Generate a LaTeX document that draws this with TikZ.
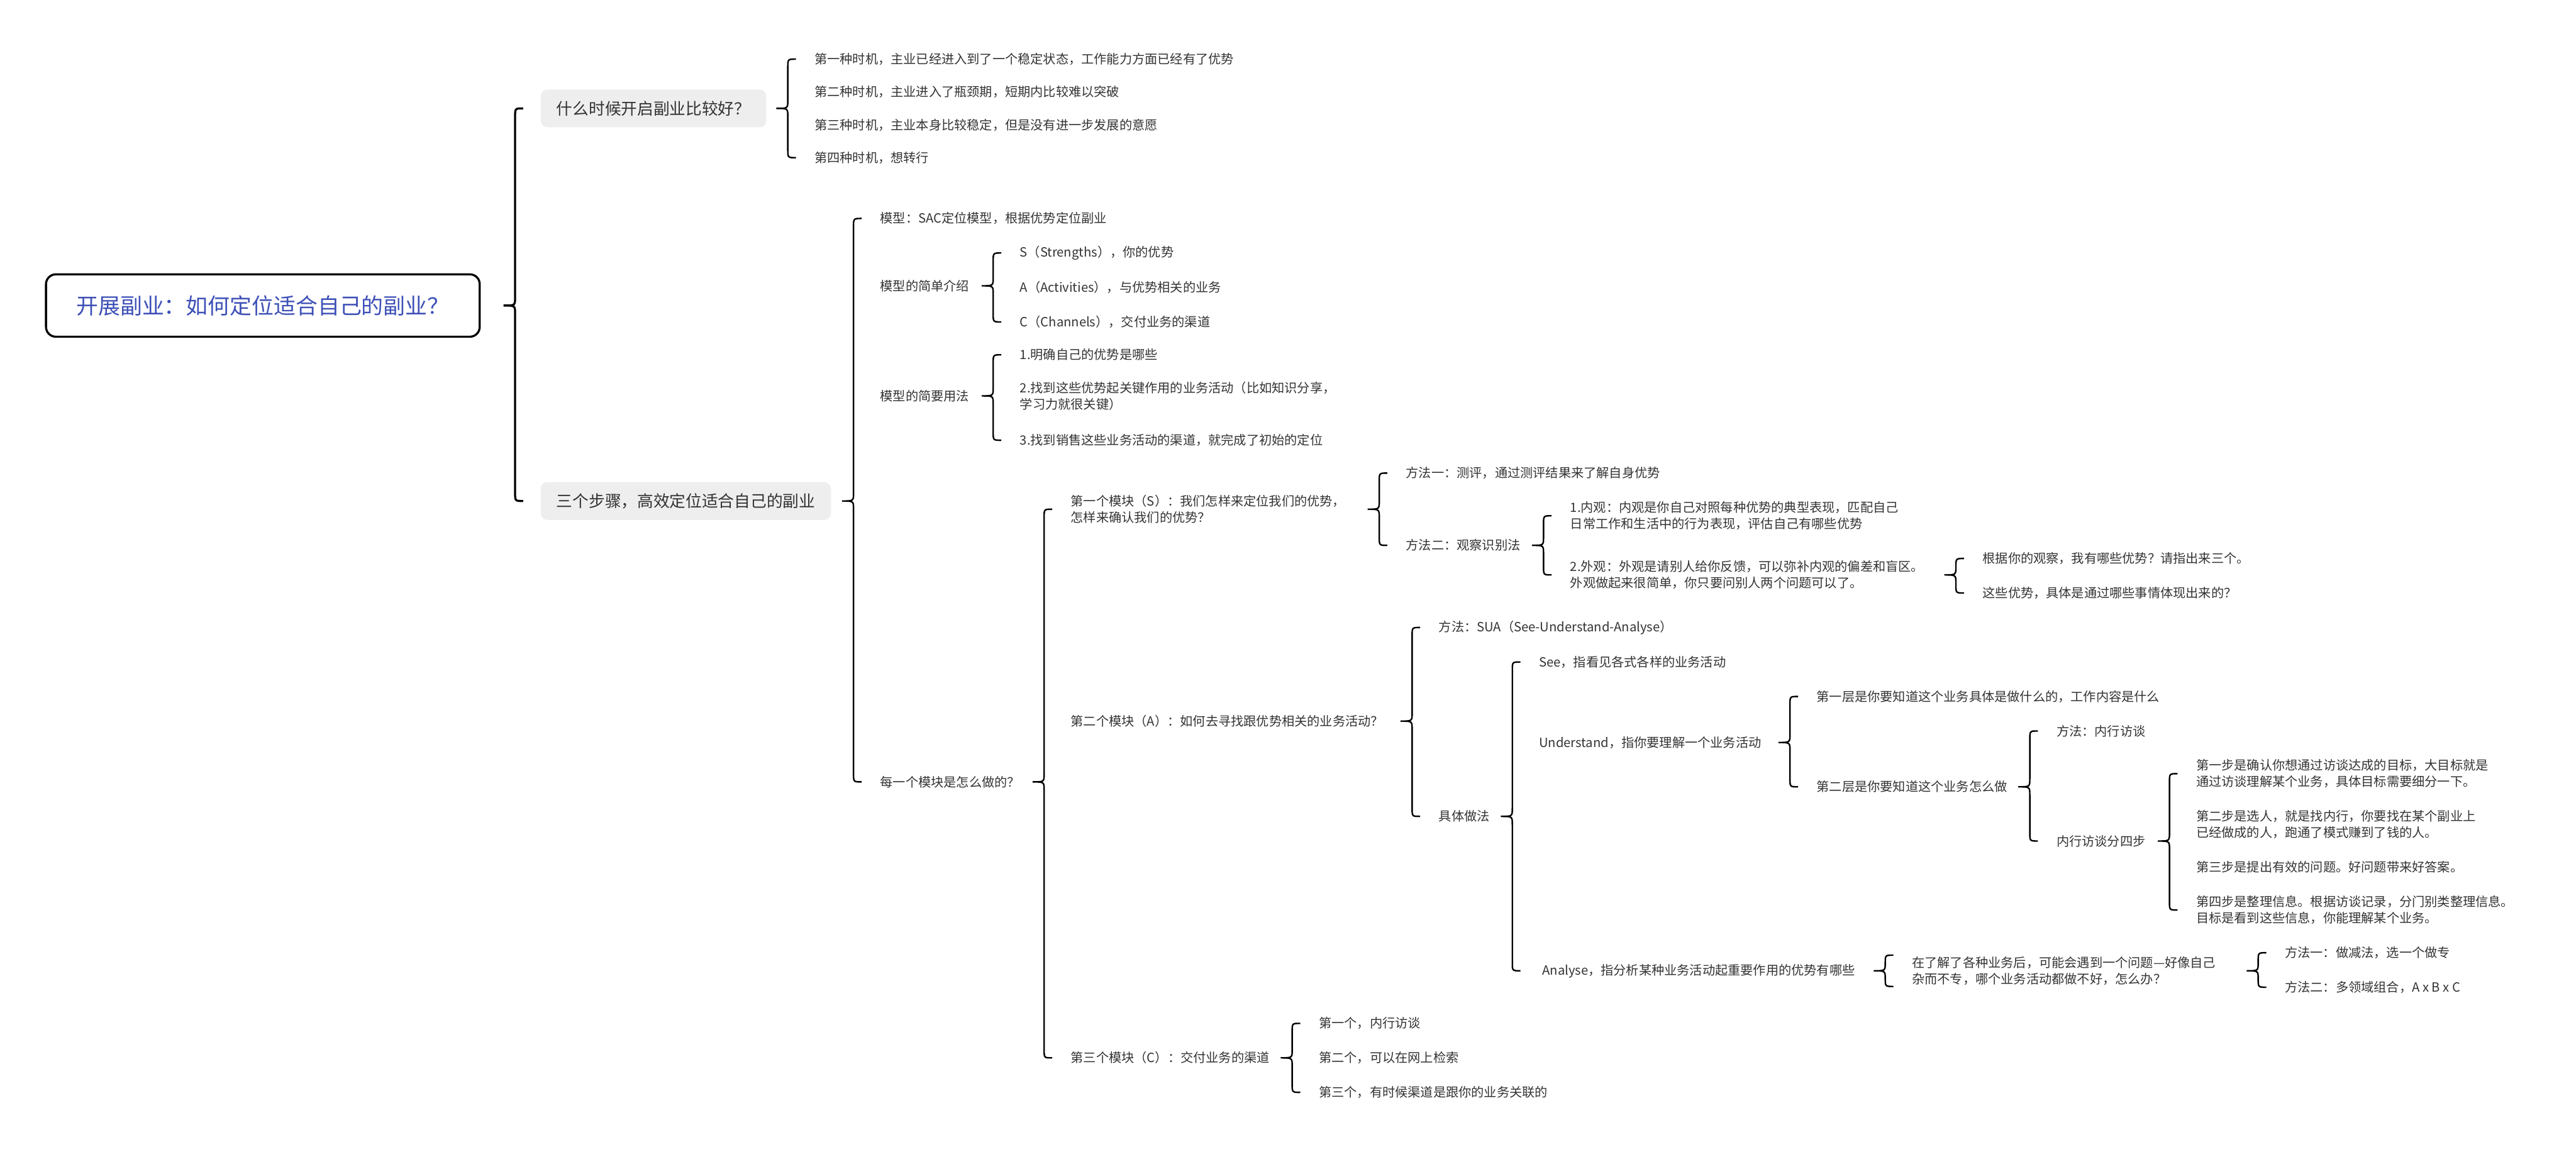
\documentclass[tikz,border=0pt]{standalone}
\usepackage{fontspec}
\setmainfont{Noto Sans CJK SC}
\usetikzlibrary{calc}
\definecolor{maptext}{RGB}{51,51,51}
\definecolor{mapblue}{RGB}{61,80,183}
\definecolor{mapgray}{RGB}{238,238,238}

% curly bracket: parent, first child, last child
\newcommand\mbrace[4][]{%
  \draw[mapline,#1] let \p1=(#2), \p2=(#3), \p3=(#4), \p4=([xshift=-22pt]#3) in
    ({\x4+7pt},\y2) .. controls (\x4,\y2) .. (\x4,{\y2-7pt})
    -- (\x4,{\y1+7pt}) .. controls (\x4,\y1) .. ({\x4-10pt},\y1)
    .. controls (\x4,\y1) .. (\x4,{\y1-7pt})
    -- (\x4,{\y3+7pt}) .. controls (\x4,\y3) .. ({\x4+7pt},\y3);}

\begin{document}
\begin{tikzpicture}[
    x=0.5mm, y=-0.5mm,
    mapline/.style={draw=black, line width=1.3pt},
    central/.style={draw=black, line width=1.8pt, fill=white, rounded corners=3mm, minimum width=132mm, minimum height=19mm, text=mapblue, font=\fontsize{19}{22}\selectfont},
    topic/.style={anchor=west, fill=mapgray, rounded corners=2mm, inner xsep=4.8mm, minimum height=11.5mm, text=maptext, font=\fontsize{14}{17}\selectfont},
    leaf/.style={anchor=west, inner sep=1pt, align=left, text=maptext, font=\fontsize{11}{14.2}\selectfont}
  ]
  \useasboundingbox (0,0) rectangle (1568,701);

  % root and main topics
  \node[central] (root) at (160,186) {开展副业：如何定位适合自己的副业？};
  \node[topic] (when) at (329,66) {什么时候开启副业比较好？};
  \node[topic] (steps) at (329,305) {三个步骤，高效定位适合自己的副业};

  % when to start
  \node[leaf] (t1) at (495,36) {第一种时机，主业已经进入到了一个稳定状态，工作能力方面已经有了优势};
  \node[leaf] (t2) at (495,56) {第二种时机，主业进入了瓶颈期，短期内比较难以突破};
  \node[leaf] (t3) at (495,76) {第三种时机，主业本身比较稳定，但是没有进一步发展的意愿};
  \node[leaf] (t4) at (495,96) {第四种时机，想转行};

  % three steps
  \node[leaf] (sac) at (535,133) {模型：SAC定位模型，根据优势定位副业};
  \node[leaf] (intro) at (535,174) {模型的简单介绍};
  \node[leaf] (usage) at (535,241) {模型的简要用法};
  \node[leaf] (how) at (535,476) {每一个模块是怎么做的？};

  \node[leaf] (sstr) at (620,154) {S（Strengths），你的优势};
  \node[leaf] (aact) at (620,175) {A（Activities），与优势相关的业务};
  \node[leaf] (cchn) at (620,196) {C（Channels），交付业务的渠道};

  \node[leaf] (u1) at (620,216) {1.明确自己的优势是哪些};
  \node[leaf] (u2) at (620,241) {2.找到这些优势起关键作用的业务活动（比如知识分享，\\学习力就很关键）};
  \node[leaf] (u3) at (620,268) {3.找到销售这些业务活动的渠道，就完成了初始的定位};

  % modules
  \node[leaf] (mods) at (651,310) {第一个模块（S）：我们怎样来定位我们的优势，\\怎样来确认我们的优势？};
  \node[leaf] (moda) at (651,439) {第二个模块（A）：如何去寻找跟优势相关的业务活动？};
  \node[leaf] (modc) at (651,644) {第三个模块（C）：交付业务的渠道};

  % module S
  \node[leaf] (s1) at (855,288) {方法一：测评，通过测评结果来了解自身优势};
  \node[leaf] (s2) at (855,332) {方法二：观察识别法};
  \node[leaf] (inner) at (955,314) {1.内观：内观是你自己对照每种优势的典型表现，匹配自己\\日常工作和生活中的行为表现，评估自己有哪些优势};
  \node[leaf] (outer) at (955,350) {2.外观：外观是请别人给你反馈，可以弥补内观的偏差和盲区。\\外观做起来很简单，你只要问别人两个问题可以了。};
  \node[leaf] (q1) at (1206,340) {根据你的观察，我有哪些优势？请指出来三个。};
  \node[leaf] (q2) at (1206,361) {这些优势，具体是通过哪些事情体现出来的？};

  % module A
  \node[leaf] (sua) at (875,382) {方法：SUA（See-Understand-Analyse）};
  \node[leaf] (practice) at (875,497) {具体做法};
  \node[leaf] (see) at (936,403) {See，指看见各式各样的业务活动};
  \node[leaf] (understand) at (936,452) {Understand，指你要理解一个业务活动};
  \node[leaf] (analyse) at (938,591) {Analyse，指分析某种业务活动起重要作用的优势有哪些};
  \node[leaf] (layer1) at (1105,424) {第一层是你要知道这个业务具体是做什么的，工作内容是什么};
  \node[leaf] (layer2) at (1105,479) {第二层是你要知道这个业务怎么做};
  \node[leaf] (interview) at (1251,445) {方法：内行访谈};
  \node[leaf] (fourstep) at (1251,512) {内行访谈分四步};
  \node[leaf] (step1) at (1336,471) {第一步是确认你想通过访谈达成的目标，大目标就是\\通过访谈理解某个业务，具体目标需要细分一下。};
  \node[leaf] (step2) at (1336,502) {第二步是选人，就是找内行，你要找在某个副业上\\已经做成的人，跑通了模式赚到了钱的人。};
  \node[leaf] (step3) at (1336,528) {第三步是提出有效的问题。好问题带来好答案。};
  \node[leaf] (step4) at (1336,554) {第四步是整理信息。根据访谈记录，分门别类整理信息。\\目标是看到这些信息，你能理解某个业务。};
  \node[leaf] (problem) at (1163,591) {在了解了各种业务后，可能会遇到一个问题—好像自己\\杂而不专，哪个业务活动都做不好，怎么办？};
  \node[leaf] (way1) at (1390,580) {方法一：做减法，选一个做专};
  \node[leaf] (way2) at (1390,601) {方法二：多领域组合，A x B x C};

  % module C
  \node[leaf] (c1) at (802,623) {第一个，内行访谈};
  \node[leaf] (c2) at (802,644) {第二个，可以在网上检索};
  \node[leaf] (c3) at (802,665) {第三个，有时候渠道是跟你的业务关联的};

  % brackets
  \mbrace[line width=1.8pt]{root.east}{when.west}{steps.west}
  \mbrace{when.east}{t1.west}{t4.west}
  \mbrace{steps.east}{sac.west}{how.west}
  \mbrace{intro.east}{sstr.west}{cchn.west}
  \mbrace{usage.east}{u1.west}{u3.west}
  \mbrace{how.east}{mods.west}{modc.west}
  \mbrace{mods.east}{s1.west}{s2.west}
  \mbrace{s2.east}{inner.west}{outer.west}
  \mbrace{outer.east}{q1.west}{q2.west}
  \mbrace{moda.east}{sua.west}{practice.west}
  \mbrace{practice.east}{see.west}{analyse.west}
  \mbrace{understand.east}{layer1.west}{layer2.west}
  \mbrace{layer2.east}{interview.west}{fourstep.west}
  \mbrace{fourstep.east}{step1.west}{step4.west}
  \mbrace{analyse.east}{problem.north west}{problem.south west}
  \mbrace{problem.east}{way1.west}{way2.west}
  \mbrace{modc.east}{c1.west}{c3.west}
\end{tikzpicture}
\end{document}
